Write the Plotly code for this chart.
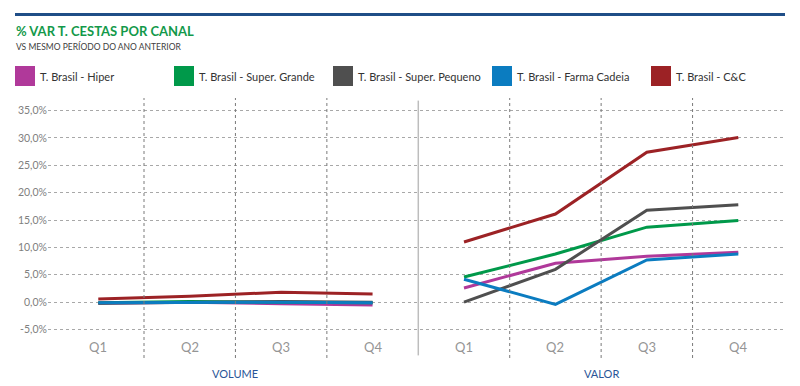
import plotly.graph_objects as go

# ---- data ----
quarters = ["Q1", "Q2", "Q3", "Q4"]
panels = ["VOLUME", "VALOR"]
series_names = ["T. Brasil - Hiper", "T. Brasil - Super. Grande", "T. Brasil - Super. Pequeno",
                "T. Brasil - Farma Cadeia", "T. Brasil - C&C"]
series_colors = ["#b0399a", "#00994a", "#4f4f4f", "#0b7cc0", "#9c2225"]

hiper_volume = [-0.2, 0.0, -0.3, -0.5]
hiper_valor = [2.6, 7.1, 8.4, 9.1]
grande_volume = [-0.1, 0.1, 0.0, -0.1]
grande_valor = [4.6, 8.8, 13.7, 14.9]
pequeno_volume = [-0.2, 0.0, 0.1, 0.0]
pequeno_valor = [0.0, 6.0, 16.8, 17.8]
farma_volume = [-0.1, 0.0, 0.0, -0.1]
farma_valor = [4.2, -0.4, 7.7, 8.8]
cc_volume = [0.6, 1.1, 1.8, 1.5]
cc_valor = [11.0, 16.1, 27.4, 30.1]

volume_values = [hiper_volume, grande_volume, pequeno_volume, farma_volume, cc_volume]
valor_values = [hiper_valor, grande_valor, pequeno_valor, farma_valor, cc_valor]
y_ticks = [-5, 0, 5, 10, 15, 20, 25, 30, 35]
y_tick_labels = ["-5,0%", "0,0%", "5,0%", "10,0%", "15,0%", "20,0%", "25,0%", "30,0%", "35,0%"]

FONT = "Lato"
W, H = 800, 386
ML, MR, MT, MB = 48, 16, 98, 28
PW, PH = W - ML - MR, H - MT - MB


def px(x):
    return (x - ML) / PW


def py(y):
    return 1 - (y - MT) / PH


fig = go.Figure()

n = len(quarters)
x_vol = list(range(n))
x_val = [i + n for i in range(n)]
for name, color, vol, val in zip(series_names, series_colors, volume_values, valor_values):
    fig.add_trace(go.Scatter(
        x=x_vol + [None] + x_val, y=vol + [None] + val,
        mode="lines", name=name, line=dict(color=color, width=3),
        connectgaps=False, showlegend=False, hoverinfo="skip"))

shapes = []
for b in [0.5, 1.5, 2.5, 4.5, 5.5, 6.5]:
    shapes.append(dict(type="line", xref="x", yref="paper", x0=b, x1=b, y0=0, y1=1,
                       line=dict(color="#7a7a7a", width=1, dash="dot")))
shapes.append(dict(type="line", xref="x", yref="paper", x0=3.5, x1=3.5, y0=0.01, y1=0.99,
                   line=dict(color="#bdbdbd", width=1.5)))
shapes.append(dict(type="rect", xref="paper", yref="paper", x0=px(15), x1=px(785),
                   y0=py(16), y1=py(13), fillcolor="#1f4e87", line=dict(width=0)))

annotations = []
for p in range(len(panels)):
    for i, q in enumerate(quarters):
        annotations.append(dict(x=p * n + i, y=-8.2, xref="x", yref="y", text=q,
                                showarrow=False, font=dict(family=FONT, size=13, color="#959595")))
    annotations.append(dict(x=p * n + (n - 1) / 2, y=py(373), xref="x", yref="paper", text=panels[p],
                            showarrow=False, yanchor="middle",
                            font=dict(family=FONT, size=11, color="#2a5597")))

annotations.append(dict(x=px(14), y=py(31), xref="paper", yref="paper",
                        text="<b>% VAR T. CESTAS POR CANAL</b>",
                        showarrow=False, xanchor="left", yanchor="middle",
                        font=dict(family=FONT, size=13, color="#13994a")))
annotations.append(dict(x=px(14), y=py(46), xref="paper", yref="paper",
                        text="VS MESMO PERÍODO DO ANO ANTERIOR", showarrow=False,
                        xanchor="left", yanchor="middle",
                        font=dict(family=FONT, size=8.5, color="#404040")))

leg_x = [15, 174, 333, 492, 651]
for name, color, lx in zip(series_names, series_colors, leg_x):
    shapes.append(dict(type="rect", xref="paper", yref="paper",
                       x0=px(lx), x1=px(lx + 20), y0=py(86), y1=py(66),
                       fillcolor=color, line=dict(width=0)))
    annotations.append(dict(x=px(lx + 23), y=py(76), xref="paper", yref="paper",
                            text=name, showarrow=False, xanchor="left", yanchor="middle",
                            font=dict(family=FONT, size=11, color="#333333")))

fig.update_layout(
    width=W, height=H,
    margin=dict(l=ML, r=MR, t=MT, b=MB),
    paper_bgcolor="white", plot_bgcolor="white",
    shapes=shapes, annotations=annotations,
    xaxis=dict(range=[-0.55, 7.5], showgrid=False, zeroline=False, showticklabels=False,
               showline=False, fixedrange=True),
    yaxis=dict(range=[-10.2, 37.3], tickvals=y_ticks, ticktext=y_tick_labels,
               showgrid=True, gridcolor="#a8a8a8", griddash="dot", gridwidth=1,
               zeroline=False, showline=False, ticks="",
               tickfont=dict(family=FONT, size=10.5, color="#808080")),
)

fig.write_html("out.html", config={"displayModeBar": False},
               post_script="document.body.style.margin='0';")
